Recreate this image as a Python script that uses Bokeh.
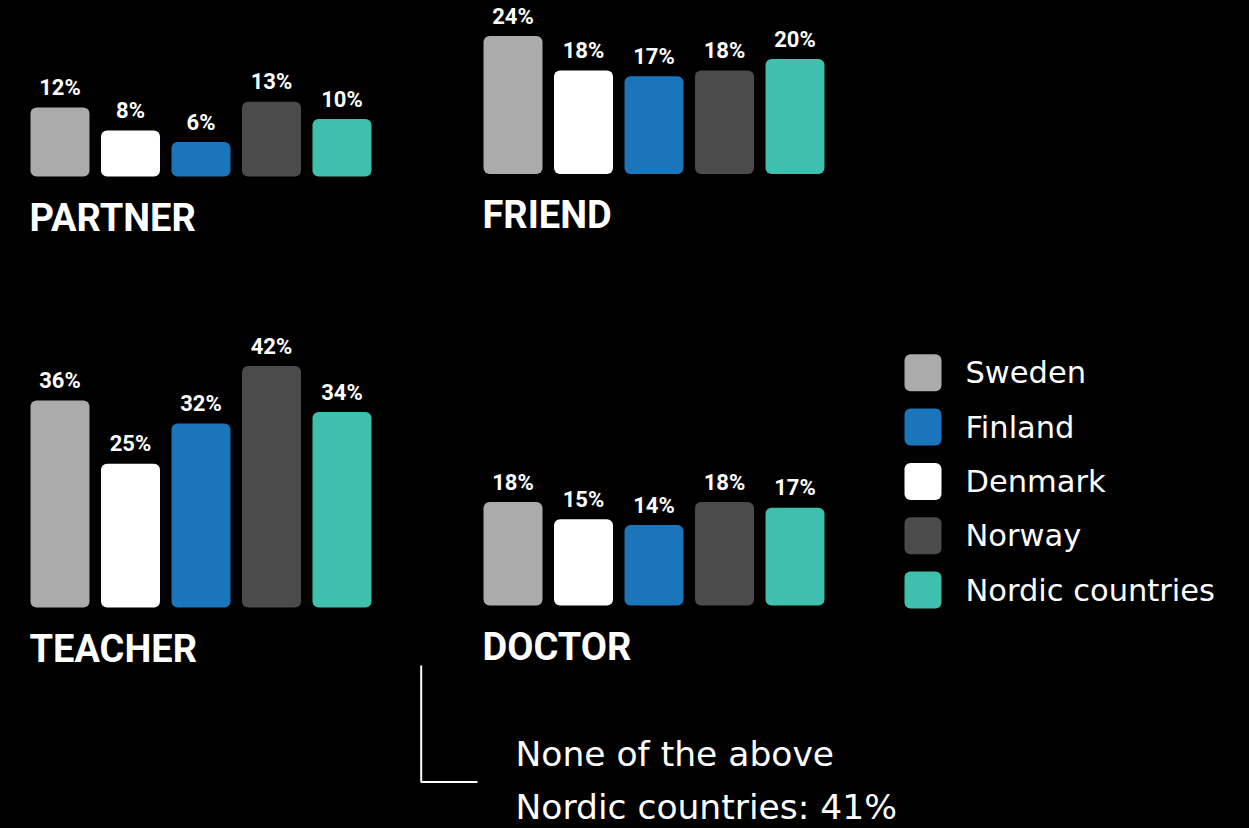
from bokeh.plotting import figure
from bokeh.models import Range1d, ColumnDataSource
from bokeh.embed import file_html
from bokeh.resources import INLINE
from bokeh.core.properties import value

# ---- data ----
countries = ["Sweden", "Denmark", "Finland", "Norway", "Nordic countries"]
legend_order = ["Sweden", "Finland", "Denmark", "Norway", "Nordic countries"]
colors = {"Sweden": "#ababab", "Denmark": "#ffffff", "Finland": "#1a75bb",
          "Norway": "#4b4b4b", "Nordic countries": "#3fbfad"}
partner = [12, 8, 6, 13, 10]
friend = [24, 18, 17, 18, 20]
teacher = [36, 25, 32, 42, 34]
doctor = [18, 15, 14, 18, 17]
none_of_above_nordic = 41

W, H = 1249, 828
K = 5.75  # px per percentage point (layout scale)
SHIFT = 0.36  # empirical baseline correction (em)


def Y(px):
    return (H - px) / K


p = figure(width=W, height=H, output_backend="svg", toolbar_location=None,
           x_range=Range1d(0, W), y_range=Range1d(0, H / K),
           x_axis_location=None, y_axis_location=None, min_border=0,
           background_fill_color="black", border_fill_color="black",
           outline_line_color=None)
p.grid.visible = False

BOLD = "Roboto"
REG = "DejaVu Sans"

panels = [
    ("PARTNER", partner, 30, 176),
    ("FRIEND", friend, 483, 173.5),
    ("TEACHER", teacher, 30, 607),
    ("DOCTOR", doctor, 483, 605),
]
step = 70.5
bw = 59
LBL = 22
TTL = 38
for title, vals, x0, base_px in panels:
    base = Y(base_px)
    xs = [x0 + bw / 2 + i * step for i in range(len(vals))]
    src = ColumnDataSource(dict(
        x=xs, bottom=[base] * len(vals), top=[base + v for v in vals],
        color=[colors[c] for c in countries],
        label=[f"{v}%" for v in vals]))
    p.vbar(x="x", bottom="bottom", top="top", width=bw, source=src,
           fill_color="color", line_color=None, border_radius=6)
    p.text(x="x", y="top", text="label", source=src,
           y_offset=-12 - SHIFT * LBL,
           text_align="center", text_baseline="alphabetic",
           text_color="white", text_font=value(BOLD), text_font_style="bold",
           text_font_size=f"{LBL}px")
    p.text(x=[x0 - 1], y=[base], text=[title], y_offset=55 - SHIFT * TTL,
           text_align="left", text_baseline="alphabetic",
           text_color="white", text_font=value(BOLD), text_font_style="bold",
           text_font_size=f"{TTL}px")

# legend
LEG = 30.5
leg_y_px = [372.3 + i * 54.3 for i in range(len(legend_order))]
lsrc = ColumnDataSource(dict(
    x=[922.5] * len(legend_order), y=[Y(v) for v in leg_y_px],
    tx=[965] * len(legend_order),
    color=[colors[c] for c in legend_order], label=legend_order))
p.rect(x="x", y="y", width=37, height=37, width_units="screen",
       height_units="screen", source=lsrc, fill_color="color",
       line_color=None, border_radius=6)
p.text(x="tx", y="y", text="label", source=lsrc, y_offset=11 - SHIFT * LEG,
       text_align="left", text_baseline="alphabetic", text_color="white",
       text_font=value(REG), text_font_size=f"{LEG}px")

# bracket + note
NOTE = 34.5
p.line(x=[420.7, 420.7, 477], y=[Y(665), Y(781.5), Y(781.5)],
       line_color="white", line_width=2)
p.text(x=[515, 515], y=[Y(766), Y(819)],
       text=["None of the above", f"Nordic countries: {none_of_above_nordic}%"],
       y_offset=-SHIFT * NOTE,
       text_align="left", text_baseline="alphabetic", text_color="white",
       text_font=value(REG), text_font_size=f"{NOTE}px")

html = file_html(p, INLINE)
html = html.replace("<head>", "<head><style>html,body{margin:0;padding:0;background:#000;}</style>", 1)
open("out.html", "w").write(html)
